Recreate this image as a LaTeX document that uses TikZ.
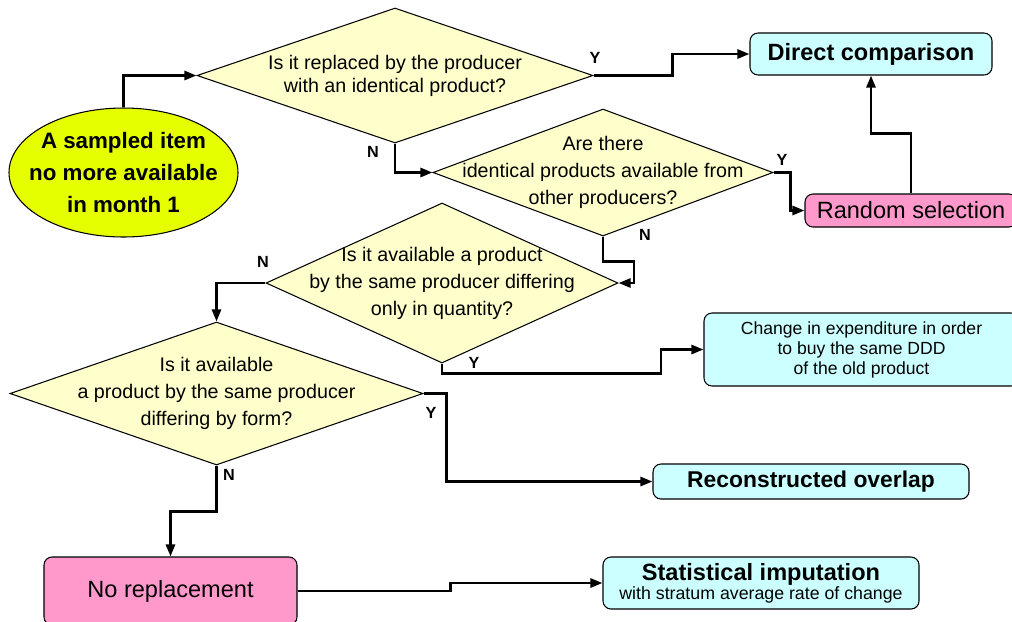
\documentclass[tikz,border=0pt]{standalone}
\usepackage{fontspec}
\setmainfont{Liberation Sans}
\usetikzlibrary{shapes.geometric,arrows.meta}
\definecolor{askfill}{HTML}{FFFFCC}
\definecolor{startfill}{HTML}{E6FF00}
\definecolor{endfill}{HTML}{CCFFFF}
\definecolor{pinkfill}{HTML}{FF99CC}

\begin{document}
\begin{tikzpicture}[x=0.2mm,y=-0.2mm]
\tikzset{
  question/.style={diamond, draw, fill=askfill, line width=0.6pt, inner sep=0pt},
  asktext/.style={align=center, inner sep=0pt, font=\fontsize{11.2}{15.4}\selectfont},
  outcome/.style={rectangle, rounded corners=1.6mm, draw, fill=endfill, line width=0.6pt, inner sep=0pt, align=center},
  link/.style={line width=1.5pt, -{Triangle[length=2.4mm,width=1.8mm]}},
  answer/.style={inner sep=0pt, font=\bfseries\fontsize{9.2}{10}\selectfont}
}
\useasboundingbox (0,0) rectangle (1012,621);

\node[ellipse, draw, fill=startfill, line width=0.6pt, minimum width=45.8mm, minimum height=25.8mm, inner sep=0pt] (item) at (123.5,172.5) {};
\node[align=center, inner sep=0pt, font=\bfseries\fontsize{12.7}{18.2}\selectfont] (itemtext) at (item) {A sampled item\\no more available\\in month 1};

\node[question, minimum width=79.2mm, minimum height=27mm] (q1) at (395,75.5) {};
\node[asktext, font=\fontsize{11.2}{13}\selectfont] (q1text) at (q1) {Is it replaced by the producer\\with an identical product?};
\node[question, minimum width=68mm, minimum height=25.4mm] (q2) at (603,172.5) {};
\node[asktext] (q2text) at (q2) {Are there\\identical products available from\\other producers?};
\node[question, minimum width=70.4mm, minimum height=32mm] (q3) at (442,283) {};
\node[asktext] (q3text) at (q3) {Is it available a product\\by the same producer differing\\only in quantity?};
\node[question, minimum width=82.6mm, minimum height=28.6mm] (q4) at (216.5,393.5) {};
\node[asktext] (q4text) at (q4) {Is it available\\a product by the same producer\\differing by form?};

\node[outcome, minimum width=48.4mm, minimum height=8.4mm, font=\bfseries\fontsize{13.4}{16}\selectfont] (direct) at (871,54) {Direct comparison};
\node[outcome, fill=pinkfill, minimum width=42.4mm, minimum height=6.6mm, font=\fontsize{13.4}{16}\selectfont] (random) at (911,210.5) {Random selection};
\node[outcome, minimum width=63mm, minimum height=14.6mm, font=\fontsize{10}{11.4}\selectfont] (change) at (861.5,349.5) {Change in expenditure in order\\to buy the same DDD\\of the old product};
\node[outcome, minimum width=63.2mm, minimum height=7mm, font=\bfseries\fontsize{13}{16}\selectfont] (overlap) at (811,481.5) {Reconstructed overlap};
\node[outcome, fill=pinkfill, minimum width=50.6mm, minimum height=13.6mm, font=\fontsize{13.4}{16}\selectfont] (norepl) at (170.5,591) {No replacement};
\node[outcome, minimum width=63.2mm, minimum height=10.4mm] (imput) at (761,583) {{\bfseries\fontsize{13.4}{16}\selectfont Statistical imputation}\\[-1pt]{\fontsize{10.1}{12}\selectfont with stratum average rate of change}};

\draw[link] (item.north) |- (q1.west);
\draw[link] (q1.east) -- ++(79,0) |- (direct.west);
\draw[link] (q1.south) |- (q2.west);
\draw[link] (q2.east) -- ++(17,0) |- (random.west);
\draw[link] (random.north) -- ++(0,-60) -| (direct.south);
\draw[link] (q2.south) -- ++(0,25) -- ++(31,0) |- (q3.east);
\draw[link] (q3.west) -| (q4.north);
\draw[link] (q3.south) -- ++(0,10) -- ++(219,0) |- (change.west);
\draw[link] (q4.east) -- ++(23,0) |- (overlap.west);
\draw[link] (q4.south) -- ++(0,46) -| (norepl.north);
\draw[link] (norepl.east) -- ++(153,0) |- (imput.west);

\foreach \name/\where/\txt in {y1/{(595,58)}/Y, n1/{(373,152)}/N, y2/{(782,160)}/Y, n2/{(645,235)}/N,
  n3/{(263,262)}/N, y3/{(474,363)}/Y, y4/{(431,413)}/Y, n4/{(229,475)}/N}
{
	\node[answer] (\name) at \where {\txt};
}

\end{tikzpicture}
\end{document}
